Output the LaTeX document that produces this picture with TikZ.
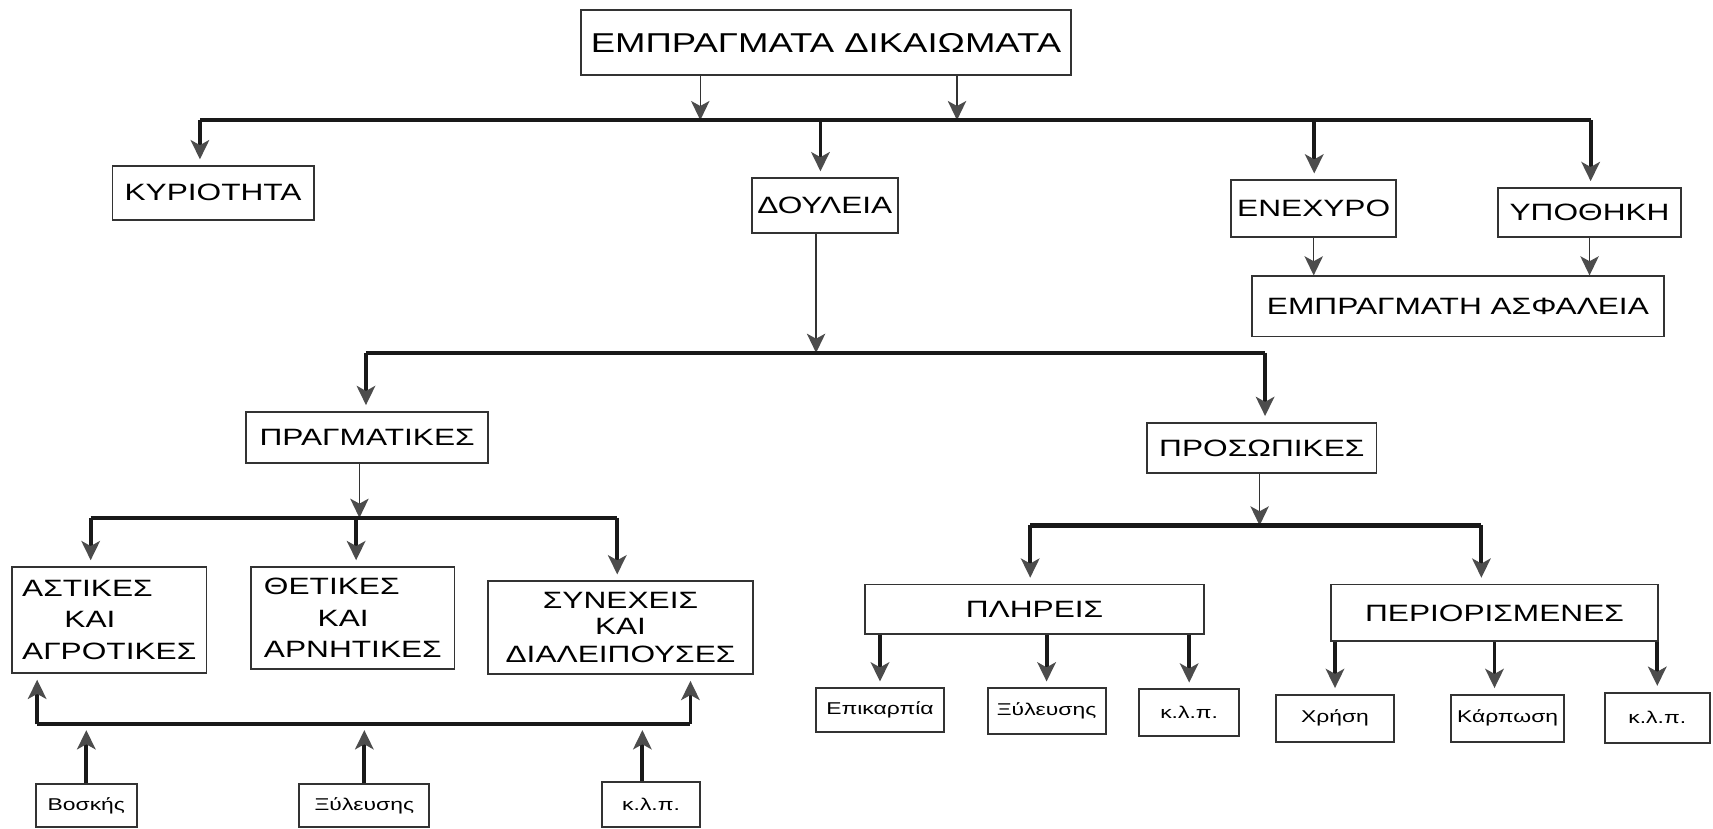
\documentclass[tikz,border=0pt]{standalone}
\usepackage{fontspec}
\setmainfont[FakeStretch=1.34]{Liberation Sans}
\usetikzlibrary{arrows.meta}
\def\titlesize{\fontsize{7.1}{8.5}\selectfont}
\def\midsize{\fontsize{6.15}{8.3}\selectfont}
\def\leafsize{\fontsize{4.45}{5.4}\selectfont}
\tikzset{
  box/.style={draw=black!80, line width=0.5pt, inner sep=0pt, align=center, font=\midsize},
  leaf/.style={box, font=\leafsize},
  bar/.style={line width=1.1pt, color=black!90},
  thinarr/.style={line width=0.4pt, color=black!80, -{Stealth[length=5pt,width=4.8pt,inset=1.3pt,color=black!70]}},
  thickarr/.style={line width=1pt, color=black!90, shorten >=1.5pt, -{Stealth[length=5pt,width=4.8pt,inset=1.3pt,color=black!70]}}
}

\begin{document}
\begin{tikzpicture}[x=0.1mm, y=-0.1mm]
			%%%%% START %%%%%
			\useasboundingbox (0,0) rectangle (1568,758);
			
			\node[box, font=\titlesize, minimum width=44.8mm, minimum height=6.0mm] (top) at (756,39) {ΕΜΠΡΑΓΜΑΤΑ ΔΙΚΑΙΩΜΑΤΑ};
			
			\node[box, minimum width=18.4mm, minimum height=4.9mm] (kyr) at (195,176.5) {ΚΥΡΙΟΤΗΤΑ};
			\node[box, minimum width=13.4mm, minimum height=5.0mm] (doul) at (755,188) {ΔΟΥΛΕΙΑ};
			\node[box, minimum width=15.1mm, minimum height=5.2mm] (enex) at (1202.5,191) {ΕΝΕΧΥΡΟ};
			\node[box, minimum width=16.8mm, minimum height=4.5mm] (ypo) at (1455,194.5) {ΥΠΟΘΗΚΗ};
			\node[box, minimum width=37.7mm, minimum height=5.5mm] (asf) at (1334.5,280.5) {ΕΜΠΡΑΓΜΑΤΗ ΑΣΦΑΛΕΙΑ};
			
			\node[box, minimum width=22.2mm, minimum height=4.7mm] (prag) at (336,400.5) {ΠΡΑΓΜΑΤΙΚΕΣ};
			\node[box, minimum width=21.0mm, minimum height=4.6mm] (pros) at (1155,410) {ΠΡΟΣΩΠΙΚΕΣ};
			
			\node[box, align=left, minimum width=17.8mm, minimum height=9.7mm] (ast) at (100,567.5) {ΑΣΤΙΚΕΣ\\\hspace*{11pt}ΚΑΙ\\ΑΓΡΟΤΙΚΕΣ};
			\node[box, align=left, minimum width=18.6mm, minimum height=9.3mm] (thet) at (323,565.5) {ΘΕΤΙΚΕΣ\\\hspace*{14pt}ΚΑΙ\\ΑΡΝΗΤΙΚΕΣ};
			\node[box, font=\fontsize{6.15}{6.6}\selectfont, minimum width=24.2mm, minimum height=8.5mm] (syn) at (568,574.5) {ΣΥΝΕΧΕΙΣ\\ΚΑΙ\\[0.8pt]ΔΙΑΛΕΙΠΟΥΣΕΣ};
			
			\node[box, minimum width=31.0mm, minimum height=4.5mm] (plir) at (947,557.5) {ΠΛΗΡΕΙΣ};
			\node[box, minimum width=30.0mm, minimum height=5.2mm] (perio) at (1368,561) {ΠΕΡΙΟΡΙΣΜΕΝΕΣ};
			
			\node[leaf, minimum width=9.2mm, minimum height=3.9mm] (vosk) at (79,737.5) {Βοσκής};
			\node[leaf, minimum width=11.9mm, minimum height=3.9mm] (xyl1) at (333.5,737.5) {Ξύλευσης};
			\node[leaf, minimum width=9.0mm, minimum height=4.1mm] (klp1) at (596,736.5) {κ.λ.π.};
			
			\node[leaf, minimum width=11.7mm, minimum height=4.0mm] (epik) at (805.5,650) {Επικαρπία};
			\node[leaf, minimum width=10.8mm, minimum height=4.2mm] (xyl2) at (958,651) {Ξύλευσης};
			\node[leaf, minimum width=9.1mm, minimum height=4.3mm] (klp2) at (1088.5,652.5) {κ.λ.π.};
			\node[leaf, minimum width=10.8mm, minimum height=4.3mm] (xris) at (1222,657.5) {Χρήση};
			\node[leaf, minimum width=10.4mm, minimum height=4.3mm] (karp) at (1380,657.5) {Κάρπωση};
			\node[leaf, minimum width=9.6mm, minimum height=4.6mm] (klp3) at (1517,657) {κ.λ.π.};
			
			% first bar
			\coordinate (b1l) at (183,110);
			\coordinate (b1r) at (1456,110);
			\coordinate (b1a) at (641,110);
			\coordinate (b1b) at (876,110);
			\coordinate (b1d) at (751,110);
			\coordinate (b1e) at (1203,110);
			\draw[thinarr] (top.south -| b1a) -- (b1a);
			\draw[thinarr] (top.south -| b1b) -- (b1b);
			\draw[bar] (b1l) -- (b1r);
			\draw[thickarr] (b1l) -- (b1l |- kyr.north);
			\draw[thickarr] (b1d) -- (b1d |- doul.north);
			\draw[thickarr] (b1e) -- (b1e |- enex.north);
			\draw[thickarr] (b1r) -- (b1r |- ypo.north);
			\draw[thinarr] (enex.south) -- (enex.south |- asf.north);
			\draw[thinarr] (ypo.south) -- (ypo.south |- asf.north);
			
			% second bar
			\coordinate (b2l) at (335,323);
			\coordinate (b2r) at (1158,323);
			\coordinate (b2d) at (747,323);
			\draw[thinarr] (doul.south -| b2d) -- (b2d);
			\draw[bar] (b2l) -- (b2r);
			\draw[thickarr] (b2l) -- (b2l |- prag.north);
			\draw[thickarr] (b2r) -- (b2r |- pros.north);
			
			% left side
			\coordinate (b3l) at (83,474);
			\coordinate (b3m) at (326,474);
			\coordinate (b3r) at (565,474);
			\coordinate (b3p) at (329,474);
			\draw[thinarr] (prag.south -| b3p) -- (b3p);
			\draw[bar] (b3l) -- (b3r);
			\draw[thickarr] (b3l) -- (b3l |- ast.north);
			\draw[thickarr] (b3m) -- (b3m |- thet.north);
			\draw[thickarr] (b3r) -- (b3r |- syn.north);
			
			\coordinate (b5l) at (34,663);
			\coordinate (b5r) at (632,663);
			\draw[bar] (b5l) -- (b5r);
			\draw[thickarr] (b5l) -- (b5l |- ast.south);
			\draw[thickarr] (b5r) -- (b5r |- syn.south);
			\draw[thickarr] (vosk.north) -- (vosk.north |- b5l);
			\draw[thickarr] (xyl1.north) -- (xyl1.north |- b5l);
			\draw[thickarr] (klp1.north -| 588,0) -- (b5l -| 588,0);
			
			% right side
			\coordinate (b4l) at (943,481);
			\coordinate (b4r) at (1356,481);
			\coordinate (b4p) at (1153,481);
			\draw[thinarr] (pros.south -| b4p) -- (b4p);
			\draw[bar] (b4l) -- (b4r);
			\draw[thickarr] (b4l) -- (b4l |- plir.north);
			\draw[thickarr] (b4r) -- (b4r |- perio.north);
			
			\draw[thickarr] (plir.south -| epik.north) -- (epik.north);
			\draw[thickarr] (plir.south -| xyl2.north) -- (xyl2.north);
			\draw[thickarr] (plir.south -| klp2.north) -- (klp2.north);
			\draw[thickarr] (perio.south -| xris.north) -- (xris.north);
			\draw[thickarr] ([xshift=-1.2mm]perio.south -| karp.north) -- ([xshift=-1.2mm]karp.north);
			\draw[thickarr] (perio.south -| klp3.north) -- (klp3.north);
			
			%%%%% END %%%%%
\end{tikzpicture}
\end{document}
